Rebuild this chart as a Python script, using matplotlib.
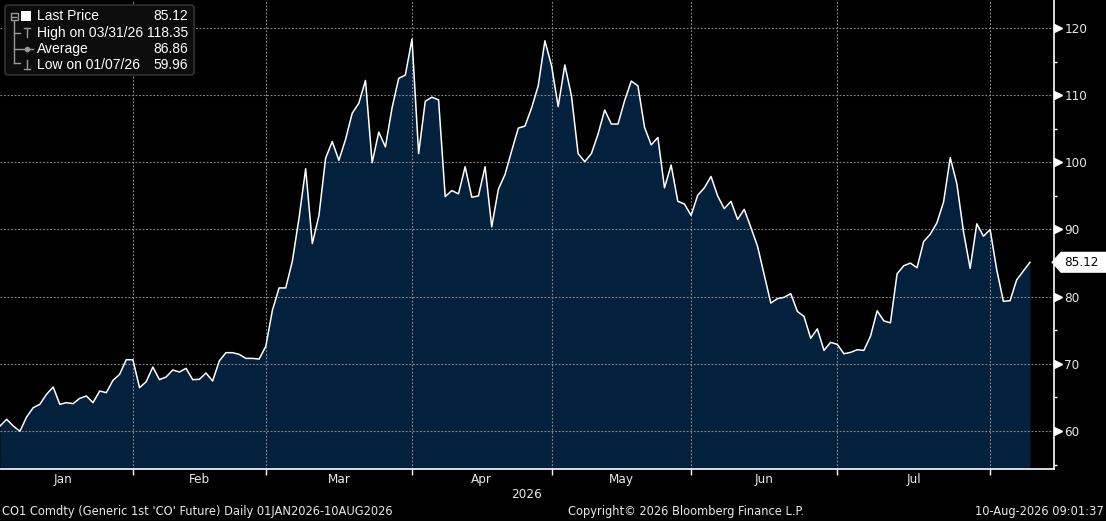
import numpy as np
import pandas as pd
import matplotlib
matplotlib.use("Agg")
import matplotlib.pyplot as plt
from matplotlib.path import Path
from matplotlib.patches import FancyBboxPatch, Rectangle
from matplotlib.lines import Line2D
from matplotlib.transforms import Affine2D, ScaledTranslation

# trading days (ICE closed on Good Friday)
dates = pd.bdate_range("2026-01-02", "2026-08-10")
dates = dates[dates != pd.Timestamp("2026-04-03")]

prices = [
    60.74, 61.74, 60.74, 59.96, 62.08, 63.47, 63.97, 65.46, 66.55, 63.97,
    64.22, 64.07, 64.86, 65.21, 64.22, 65.95, 65.70, 67.54, 68.43, 70.61,
    70.61, 66.45, 67.34, 69.52, 67.64, 68.04, 69.08, 68.78, 69.33, 67.64,
    67.69, 68.63, 67.44, 70.42, 71.66, 71.66, 71.41, 70.81, 70.81, 70.71,
    72.60, 78.00, 81.30, 81.30, 85.30, 91.70, 99.05, 87.90, 92.10, 100.60,
    103.10, 100.30, 103.40, 107.30, 108.80, 112.20, 99.95, 104.50, 102.30, 108.10,
    112.50, 113.00, 118.35, 101.30, 109.10, 109.70, 109.30, 94.90, 95.80, 95.30,
    99.35, 94.80, 95.00, 99.35, 90.40, 96.00, 98.20, 101.70, 105.10, 105.40,
    108.10, 111.40, 118.10, 114.40, 108.30, 114.50, 109.90, 101.30, 100.10, 101.30,
    104.20, 107.80, 105.70, 105.70, 109.20, 112.10, 111.40, 105.20, 102.60, 103.70,
    96.20, 99.60, 94.20, 93.80, 92.10, 95.10, 96.20, 97.90, 95.00, 93.10,
    94.20, 91.50, 93.00, 90.30, 87.50, 83.30, 79.05, 79.70, 79.90, 80.45,
    77.80, 77.05, 73.80, 75.20, 72.00, 73.20, 72.90, 71.50, 71.70, 72.10,
    72.00, 74.10, 77.90, 76.40, 76.10, 83.40, 84.60, 85.00, 84.30, 88.20,
    89.30, 91.00, 94.10, 100.70, 96.80, 89.65, 84.20, 90.85, 89.00, 90.00,
    84.00, 79.30, 79.40, 82.50, 83.80, 85.12,
]

legend_rows = [
    ("Last Price", "85.12"),
    ("High on 03/31/26", "118.35"),
    ("Average", "86.86"),
    ("Low on 01/07/26", "59.96"),
]
major_y = [60, 70, 80, 90, 100, 110, 120]
minor_y = [55, 65, 75, 85, 95, 105, 115]
year_label = "2026"
footer_left = "CO1 Comdty (Generic 1st 'CO' Future) Daily 01JAN2026-10AUG2026"
footer_mid = "Copyright\u00a9 2026 Bloomberg Finance L.P."
footer_right = "10-Aug-2026 09:01:37"

W, H = 1106, 521
FILL = "#03203d"
GRID = "#8a8a8a"
TXT = "#e8e8e8"
NARROW = dict(family="DejaVu Sans", stretch="condensed", fontsize=9.6)
FOOT = dict(family="DejaVu Sans", stretch="condensed", fontsize=9.2)

x = np.arange(len(dates))
y = np.array(prices)

# month boundaries = last trading day of each month
ends = [i for i in range(len(dates) - 1) if dates[i].month != dates[i + 1].month]
bounds = [-1] + ends
centers = [(bounds[k] + bounds[k + 1]) / 2 for k in range(len(ends))]
month_labels = [dates[i].strftime("%b") for i in ends]

fig = plt.figure(figsize=(W / 100, H / 100), dpi=100, facecolor="black")
ax = fig.add_axes([0, 52 / H, 1054 / W, 469 / H])
ax.set_facecolor("black")

ymin, ymax = 54.34, 124.17
ax.fill_between(x, ymin, y, color=FILL, lw=0, zorder=1)
ax.plot(x, y, color="white", lw=1.1, zorder=3)
ax.set_xlim(0, 1054 / 6.645)
ax.set_ylim(ymin, ymax)

for s in ["left", "top"]:
    ax.spines[s].set_visible(False)
for s in ["right", "bottom"]:
    ax.spines[s].set_color("white")
    ax.spines[s].set_linewidth(1.2)

# x axis
ax.set_xticks(ends)
ax.set_xticklabels([])
ax.set_xticks(centers, minor=True)
ax.set_xticklabels(month_labels, minor=True, color=TXT, **NARROW)
ax.tick_params(axis="x", which="major", direction="out", length=4, width=1, color="white")
ax.tick_params(axis="x", which="minor", length=0, pad=3)

# y axis on the right
ax.yaxis.tick_right()
ax.set_yticks(major_y)
ax.set_yticklabels([str(v) for v in major_y], color=TXT, **NARROW)
ax.set_yticks(minor_y, minor=True)
ax.tick_params(axis="y", which="major", length=0, pad=7.5)
ax.tick_params(axis="y", which="minor", direction="out", length=2.5, width=1, color="white")
tri = ax.get_yaxis_transform() + ScaledTranslation(4 / 100, 0, fig.dpi_scale_trans)
ax.plot([1.0] * len(major_y), major_y, ls="none", marker=">", ms=5.5, color="white",
        transform=tri, clip_on=False, zorder=5)

ax.grid(True, which="major", color=GRID, ls=(0, (1.6, 1.6)), lw=0.8)
ax.set_axisbelow("line")

ax.text(0.5, -26 / 469, year_label, transform=ax.transAxes, ha="center", va="center",
        color=TXT, **NARROW)


# last price tag
def tag_box(x0, y0, width, height, mutation_size):
    pad = 0.25 * mutation_size
    x0, y0 = x0 - pad, y0 - pad
    w, h = width + 2 * pad, height + 2 * pad
    tip = 0.45 * h
    verts = [(x0 - tip, y0 + h / 2), (x0, y0), (x0 + w + 20, y0),
             (x0 + w + 20, y0 + h), (x0, y0 + h), (x0 - tip, y0 + h / 2)]
    return Path(verts, closed=True)


ax.annotate(f"{prices[-1]:.2f}", xy=(1.0, prices[-1]), xycoords=("axes fraction", "data"),
            xytext=(7.5, 0), textcoords="offset points", ha="left", va="center",
            color="black", annotation_clip=False,
            bbox=dict(boxstyle=tag_box, fc="white", ec="white"), **NARROW)

# legend box (figure pixel coordinates, y from top)
pix = Affine2D().scale(1 / W, -1 / H).translate(0, 1) + fig.transFigure
fig.patches.append(FancyBboxPatch((5, 5), 189, 70, boxstyle="round,pad=0,rounding_size=3",
                                  fc="#0c0c0c", ec="#3a3a3a", lw=1, transform=pix, zorder=10))
row_y = [16.5, 33, 49, 65]
for (label, val), ry in zip(legend_rows, row_y):
    fig.text(37 / W, 1 - ry / H, label, ha="left", va="center", fontsize=10,
             family="Liberation Sans", color="white", zorder=11)
    fig.text(188 / W, 1 - ry / H, val, ha="right", va="center", fontsize=10,
             family="Liberation Sans", color="white", zorder=11)

ic = "#9a9a9a"
lines = [
    [(14, 20.5), (14, 63)], [(14, 33), (20, 33)], [(14, 49), (20, 49)], [(14, 63), (20, 63)],
    [(12, 16.5), (16, 16.5)],
    [(27, 28), (27, 37)], [(24, 28), (30, 28)],
    [(21, 49), (33, 49)],
    [(27, 60), (27, 69)], [(24, 69), (30, 69)],
]
for seg in lines:
    xs, ys = zip(*seg)
    fig.lines.append(Line2D(xs, ys, color=ic, lw=1, transform=pix, zorder=11))
fig.patches.append(Rectangle((10.5, 12.5), 7, 7, fc="none", ec=ic, lw=1, transform=pix, zorder=11))
fig.patches.append(Rectangle((21, 11), 10, 10, fc="white", ec="white", lw=0, transform=pix, zorder=11))
fig.lines.append(Line2D([27], [49], marker="o", ms=3, color=ic, transform=pix, zorder=12))

# footer
fig.text(2 / W, 1 - 512 / H, footer_left, ha="left", va="center", color=TXT, **FOOT)
fig.text(686 / W, 1 - 512 / H, footer_mid, ha="center", va="center", color=TXT, **FOOT)
fig.text(1104 / W, 1 - 512 / H, footer_right, ha="right", va="center", color=TXT, **FOOT)

fig.savefig("out.png", dpi=100, facecolor="black")
